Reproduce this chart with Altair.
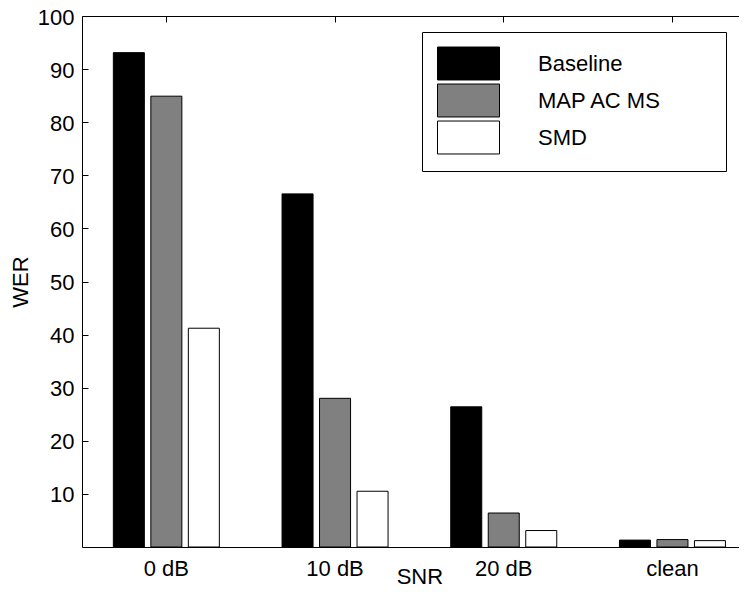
import altair as alt
import pandas as pd

snr = ["0 dB", "10 dB", "20 dB", "clean"]
systems = ["Baseline", "MAP AC MS", "SMD"]
baseline = [93.1, 66.5, 26.4, 1.3]
map_ac_ms = [84.9, 28.0, 6.4, 1.4]
smd = [41.2, 10.5, 3.1, 1.2]
colors = ["#000000", "#808080", "#ffffff"]
y_ticks = [10, 20, 30, 40, 50, 60, 70, 80, 90, 100]

rows = []
for i, s in enumerate(snr):
    for name, vals in zip(systems, [baseline, map_ac_ms, smd]):
        rows.append({"snr": s, "system": name, "wer": vals[i]})
df = pd.DataFrame(rows)

FONT = "Liberation Sans"
FS = 22
# invisible trailing padding (kept from trimming by a zero-width char) to widen the legend box
PADTXT = "\u00a0" * 8 + "\u200b"

xscale = alt.Scale(domain=snr, range=[0, 674.8], paddingInner=0, paddingOuter=0)

bars = alt.Chart(df).mark_bar(stroke="black", strokeWidth=1).encode(
    x=alt.X(
        "snr:N", sort=snr, scale=xscale,
        axis=alt.Axis(orient="bottom", title="SNR", labelAngle=0, ticks=False, tickSize=0,
                      labelPadding=11, titleY=36, titleBaseline="alphabetic", domain=True,
                      domainColor="black", domainWidth=1),
    ),
    xOffset=alt.XOffset(
        "system:N", sort=systems,
        scale=alt.Scale(domain=systems, paddingInner=0.173, paddingOuter=0.836),
    ),
    y=alt.Y(
        "wer:Q", scale=alt.Scale(domain=[0, 100], nice=False),
        axis=alt.Axis(orient="left", title="WER", values=y_ticks, tickSize={"expr": "-6"},
                      ticks=True, tickColor="black", tickWidth=1, labelPadding=14,
                      labelOffset=1, titlePadding=4.5, domain=True, domainColor="black",
                      domainWidth=1),
    ),
    color=alt.Color(
        "system:N", sort=systems,
        scale=alt.Scale(domain=systems, range=colors),
        legend=alt.Legend(
            orient="none", legendX=340, legendY=16, title=None, padding=15,
            strokeColor="black", fillColor="white",
            symbolType="M-1,-1.03H2.875V1.03H-1Z", symbolSize=1024,
            symbolStrokeColor="black", symbolStrokeWidth=1,
            labelOffset=68, labelFont=FONT, labelFontSize=FS, labelColor="black",
            labelExpr="datum.label + '" + PADTXT + "'", labelLimit=400,
            rowPadding=0,
        ),
    ),
)

top = alt.Chart(df).mark_bar(opacity=0).encode(
    x=alt.X(
        "snr:N", sort=snr, scale=xscale,
        axis=alt.Axis(orient="top", labels=False, title=None, ticks=True,
                      tickSize={"expr": "-6"}, tickColor="black", tickWidth=1,
                      domain=True, domainColor="black", domainWidth=1),
    ),
)

chart = (
    alt.layer(bars, top)
    .resolve_axis(x="independent")
    .properties(
        width=657, height=531, autosize="none",
        padding={"left": 74, "top": 8, "right": 0, "bottom": 41},
    )
    .configure_view(stroke=None)
    .configure_axis(
        labelFont=FONT, labelFontSize=FS, labelColor="black",
        titleFont=FONT, titleFontSize=FS, titleFontWeight="normal", titleColor="black",
        grid=False,
    )
)

chart.save("out.html", embed_options={"renderer": "svg", "actions": False})
